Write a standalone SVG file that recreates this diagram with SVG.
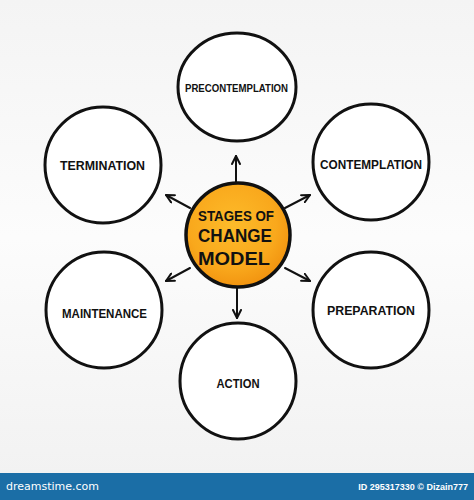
<svg xmlns="http://www.w3.org/2000/svg" width="474" height="500" viewBox="0 0 474 500">
<defs>
<linearGradient id="bg" x1="0" y1="0" x2="0" y2="1">
<stop offset="0" stop-color="#f4f4f4"/>
<stop offset="0.5" stop-color="#fcfcfc"/>
<stop offset="1" stop-color="#f2f2f2"/>
</linearGradient>
<radialGradient id="org" cx="0.45" cy="0.4" r="0.6">
<stop offset="0" stop-color="#fdbb2a"/>
<stop offset="0.7" stop-color="#f9a81c"/>
<stop offset="1" stop-color="#f29410"/>
</radialGradient>
<marker id="ah" viewBox="0 0 10 10" refX="9" refY="5" markerWidth="10" markerHeight="10" markerUnits="userSpaceOnUse" orient="auto">
<path d="M1,1 L9,5 L1,9" fill="none" stroke="#111" stroke-width="2" stroke-linecap="round" stroke-linejoin="round"/>
</marker>
<style>
.ring{fill:#fff;stroke:#111;stroke-width:3}
.lbl{font-family:"Liberation Sans",Arial,sans-serif;font-weight:bold;fill:#111;text-anchor:middle;dominant-baseline:central}
.con line{stroke:#111;stroke-width:2;stroke-linecap:round;marker-end:url(#ah)}
.ctr{font-family:"Liberation Sans",Arial,sans-serif;font-weight:bold;fill:#111;text-anchor:middle;dominant-baseline:central}
</style>
</defs>
<rect x="0" y="0" width="474" height="474" fill="url(#bg)"/>
<g class="con" id="connectors">
<line x1="236" y1="183" x2="236" y2="156"/>
<line x1="237" y1="288" x2="237" y2="318"/>
<line x1="190" y1="208" x2="166" y2="195"/>
<line x1="285" y1="208" x2="310" y2="195"/>
<line x1="190" y1="268" x2="166" y2="281"/>
<line x1="285" y1="268" x2="310" y2="281"/>
</g>
<g id="center">
<circle cx="238" cy="235" r="52" fill="url(#org)" stroke="#111" stroke-width="3.5"/>
<text class="ctr" x="236" y="216" font-size="14" textLength="76" lengthAdjust="spacingAndGlyphs">STAGES OF</text>
<text class="ctr" x="235" y="236" font-size="18" textLength="74" lengthAdjust="spacingAndGlyphs">CHANGE</text>
<text class="ctr" x="234" y="258" font-size="19" textLength="72" lengthAdjust="spacingAndGlyphs">MODEL</text>
</g>
<g id="precontemplation">
<ellipse class="ring" cx="237" cy="87" rx="59" ry="54"/>
<text class="lbl" x="236.5" y="88" font-size="11" textLength="103" lengthAdjust="spacingAndGlyphs">PRECONTEMPLATION</text>
</g>
<g id="contemplation">
<circle class="ring" cx="371" cy="162" r="58"/>
<text class="lbl" x="371" y="164" font-size="13" textLength="102" lengthAdjust="spacingAndGlyphs">CONTEMPLATION</text>
</g>
<g id="preparation">
<circle class="ring" cx="371" cy="310" r="58"/>
<text class="lbl" x="371" y="310" font-size="13" textLength="88" lengthAdjust="spacingAndGlyphs">PREPARATION</text>
</g>
<g id="action">
<circle class="ring" cx="238" cy="381" r="58"/>
<text class="lbl" x="238" y="383" font-size="13" textLength="43" lengthAdjust="spacingAndGlyphs">ACTION</text>
</g>
<g id="maintenance">
<circle class="ring" cx="104" cy="310" r="58"/>
<text class="lbl" x="104.5" y="313" font-size="13" textLength="85" lengthAdjust="spacingAndGlyphs">MAINTENANCE</text>
</g>
<g id="termination">
<circle class="ring" cx="103" cy="165" r="58"/>
<text class="lbl" x="102.5" y="165" font-size="13" textLength="85" lengthAdjust="spacingAndGlyphs">TERMINATION</text>
</g>
<g id="banner">
<rect x="0" y="473" width="474" height="27" fill="#1b6ea6"/>
<text x="6" y="490" font-family="Verdana,'DejaVu Sans',sans-serif" font-size="11" fill="#fff">dreamstime.com</text>
<text x="468" y="490" font-family="'Liberation Sans',Arial,sans-serif" font-weight="bold" font-size="9" fill="#fff" text-anchor="end">ID 295317330 © Dizain777</text>
</g>
</svg>
